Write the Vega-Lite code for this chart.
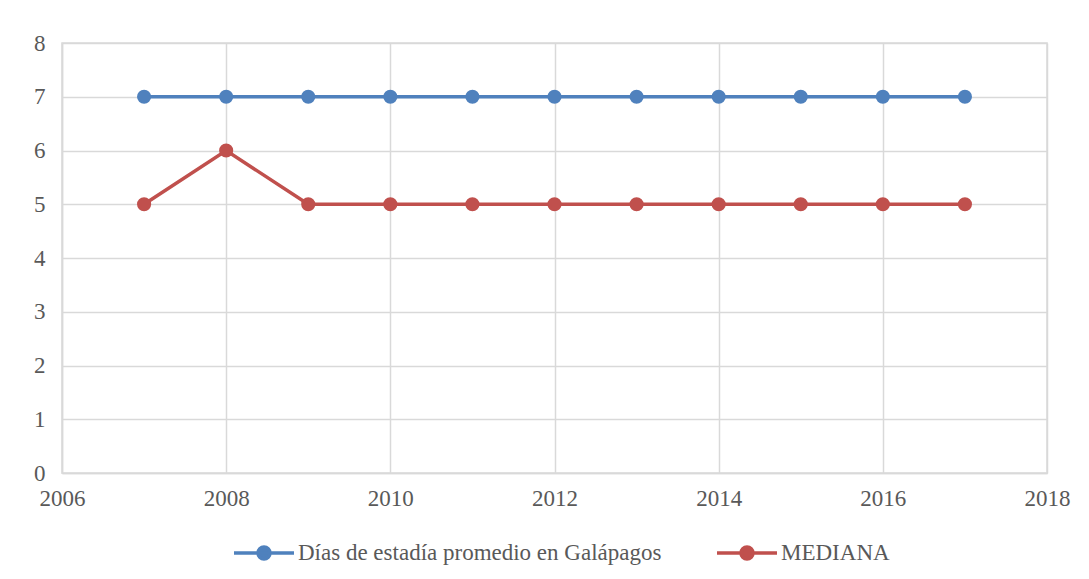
{
  "$schema": "https://vega.github.io/schema/vega-lite/v6.json",
  "width": 985,
  "height": 430,
  "autosize": "none",
  "padding": {"left": 62, "top": 43, "right": 42, "bottom": 106},
  "background": "white",
  "config": {
    "font": "Liberation Serif",
    "view": {"stroke": "#d9d9d9", "strokeWidth": 1.5},
    "axis": {
      "labelFont": "Liberation Serif",
      "labelFontSize": 23,
      "labelColor": "#595959",
      "gridColor": "#d9d9d9",
      "gridWidth": 1.5,
      "domainColor": "#d9d9d9",
      "domainWidth": 1.5,
      "ticks": false,
      "title": null
    },
    "legend": {
      "labelFont": "Liberation Serif",
      "labelFontSize": 23,
      "labelColor": "#595959",
      "labelLimit": 0
    }
  },
  "data": {
    "values": [
      {"year": 2007, "serie": "Días de estadía promedio en Galápagos", "valor": 7},
      {"year": 2008, "serie": "Días de estadía promedio en Galápagos", "valor": 7},
      {"year": 2009, "serie": "Días de estadía promedio en Galápagos", "valor": 7},
      {"year": 2010, "serie": "Días de estadía promedio en Galápagos", "valor": 7},
      {"year": 2011, "serie": "Días de estadía promedio en Galápagos", "valor": 7},
      {"year": 2012, "serie": "Días de estadía promedio en Galápagos", "valor": 7},
      {"year": 2013, "serie": "Días de estadía promedio en Galápagos", "valor": 7},
      {"year": 2014, "serie": "Días de estadía promedio en Galápagos", "valor": 7},
      {"year": 2015, "serie": "Días de estadía promedio en Galápagos", "valor": 7},
      {"year": 2016, "serie": "Días de estadía promedio en Galápagos", "valor": 7},
      {"year": 2017, "serie": "Días de estadía promedio en Galápagos", "valor": 7},
      {"year": 2007, "serie": "MEDIANA", "valor": 5},
      {"year": 2008, "serie": "MEDIANA", "valor": 6},
      {"year": 2009, "serie": "MEDIANA", "valor": 5},
      {"year": 2010, "serie": "MEDIANA", "valor": 5},
      {"year": 2011, "serie": "MEDIANA", "valor": 5},
      {"year": 2012, "serie": "MEDIANA", "valor": 5},
      {"year": 2013, "serie": "MEDIANA", "valor": 5},
      {"year": 2014, "serie": "MEDIANA", "valor": 5},
      {"year": 2015, "serie": "MEDIANA", "valor": 5},
      {"year": 2016, "serie": "MEDIANA", "valor": 5},
      {"year": 2017, "serie": "MEDIANA", "valor": 5}
    ]
  },
  "encoding": {
    "x": {
      "field": "year",
      "type": "quantitative",
      "scale": {"domain": [2006, 2018], "nice": false, "zero": false},
      "axis": {"values": [2006, 2008, 2010, 2012, 2014, 2016, 2018], "format": "d", "labelPadding": 14, "labelFlush": false, "labelOverlap": false, "labelBound": false}
    },
    "y": {
      "field": "valor",
      "type": "quantitative",
      "scale": {"domain": [0, 8], "nice": false},
      "axis": {"values": [0, 1, 2, 3, 4, 5, 6, 7, 8], "labelPadding": 17, "labelFlush": false, "labelOverlap": false, "labelBound": false}
    },
    "color": {
      "field": "serie",
      "type": "nominal",
      "scale": {
        "domain": ["Días de estadía promedio en Galápagos", "MEDIANA"],
        "range": ["#4f81bd", "#c0504d"]
      },
      "legend": {
        "title": null,
        "orient": "none",
        "legendX": 170,
        "legendY": 478,
        "direction": "horizontal",
        "symbolType": "M -1 0 L 1 0 M 0.2 0 A 0.2 0.2 0 1 1 -0.2 0 A 0.2 0.2 0 1 1 0.2 0 Z",
        "symbolSize": 3600,
        "symbolStrokeWidth": 3.5,
        "labelOffset": 2,
        "columnPadding": 48
      }
    }
  },
  "layer": [
    {"mark": {"type": "line", "strokeWidth": 3.5}},
    {"mark": {"type": "point", "filled": true, "size": 200, "opacity": 1}}
  ]
}
